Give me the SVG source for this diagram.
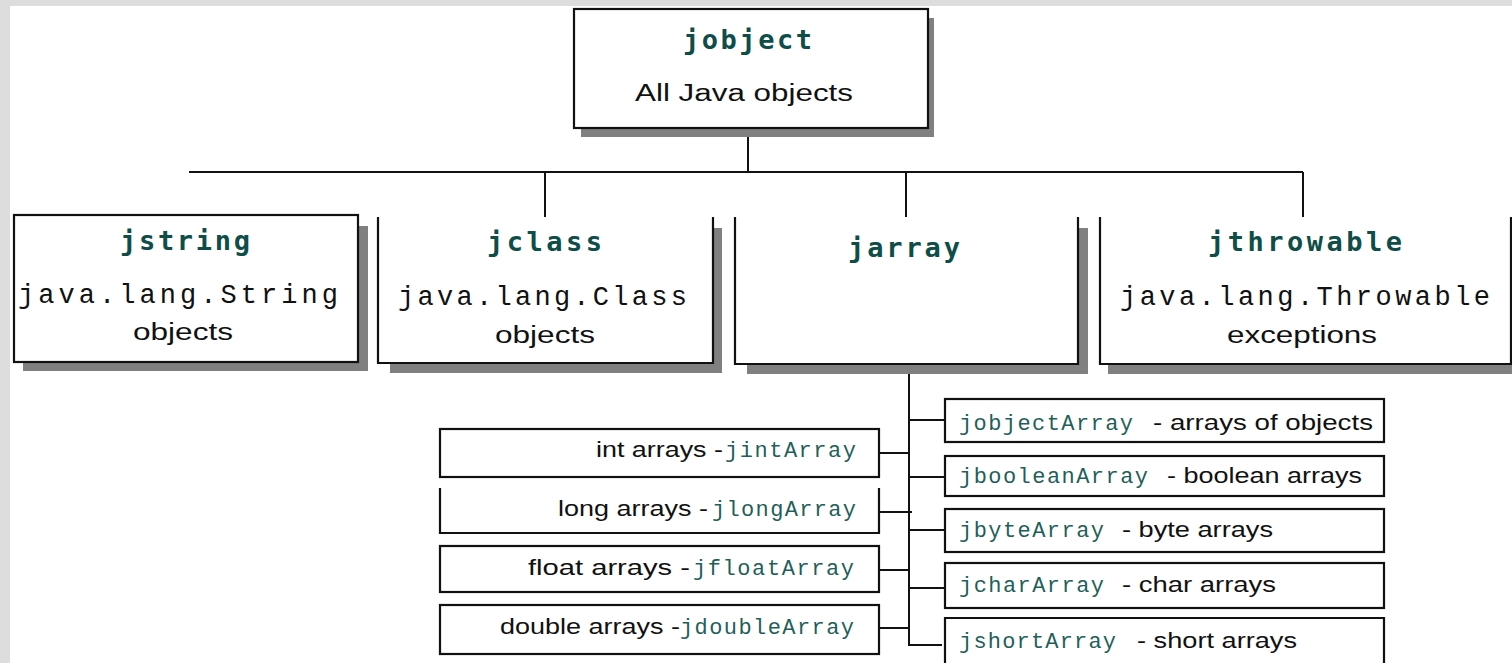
<svg xmlns="http://www.w3.org/2000/svg" width="1512" height="663" viewBox="0 0 1512 663">
<style>
.bg{fill:#dddddd}
.page{fill:#ffffff}
.sh{fill:#808080}
.fill{fill:#ffffff}
.bd{fill:none;stroke:#111111;stroke-width:2.2}
.ln{fill:none;stroke:#111111;stroke-width:2}
.hd{font-family:"DejaVu Sans Mono","Liberation Mono",monospace;font-weight:bold;font-size:27px;fill:#0e4d48}
.mono{font-family:"Liberation Mono","DejaVu Sans Mono",monospace;font-size:27px;fill:#111111}
.sans{font-family:"Liberation Sans",Arial,sans-serif;font-size:23px;fill:#111111}
.lsans{font-family:"Liberation Sans",Arial,sans-serif;font-size:22px;fill:#111111}
.tmono{font-family:"Liberation Mono","DejaVu Sans Mono",monospace;font-size:22px;fill:#1f5f5a}
</style>
<rect class="bg" x="0" y="0" width="1512" height="663"/>
<rect class="page" x="10" y="6" width="1502" height="657"/>

<g id="connectors">
<path class="ln" d="M748 128 V172"/>
<path class="ln" d="M189 172 H1303"/>
<path class="ln" d="M545 172 V217"/>
<path class="ln" d="M906 172 V217"/>
<path class="ln" d="M1303 172 V217"/>
<path class="ln" d="M909 364 V645 H942"/>
<path class="ln" d="M879 453 H909"/>
<path class="ln" d="M879 512 H912"/>
<path class="ln" d="M879 570 H909"/>
<path class="ln" d="M879 628 H909"/>
<path class="ln" d="M909 420 H945"/>
<path class="ln" d="M909 477 H945"/>
<path class="ln" d="M909 530 H945"/>
<path class="ln" d="M909 588 H945"/>
</g>

<g id="jobject">
<rect class="sh" x="581" y="18" width="353" height="119"/>
<rect class="fill" x="574" y="9" width="354" height="119"/>
<rect class="bd" x="574" y="9" width="354" height="119"/>
<text class="hd" x="683" y="49" textLength="129" lengthAdjust="spacing">jobject</text>
<text class="sans" x="635" y="101" textLength="218" lengthAdjust="spacingAndGlyphs">All Java objects</text>
</g>

<g id="jstring">
<rect class="sh" x="23" y="226" width="345" height="145"/>
<rect class="fill" x="14" y="215" width="344" height="147"/>
<rect class="bd" x="14" y="215" width="344" height="147"/>
<text class="hd" x="120" y="250" textLength="130" lengthAdjust="spacing">jstring</text>
<text class="mono" x="18" y="303" textLength="320" lengthAdjust="spacing">java.lang.String</text>
<text class="sans" x="133" y="340" textLength="100" lengthAdjust="spacingAndGlyphs">objects</text>
</g>

<g id="jclass">
<rect class="sh" x="390" y="228" width="332" height="145"/>
<rect class="fill" x="378" y="217" width="335" height="146"/>
<path class="bd" d="M378 217 V363 H713 V217"/>
<text class="hd" x="487" y="251" textLength="115" lengthAdjust="spacing">jclass</text>
<text class="mono" x="398" y="305" textLength="289" lengthAdjust="spacing">java.lang.Class</text>
<text class="sans" x="495" y="343" textLength="100" lengthAdjust="spacingAndGlyphs">objects</text>
</g>

<g id="jarray">
<rect class="sh" x="747" y="228" width="341" height="146"/>
<rect class="fill" x="735" y="217" width="343" height="147"/>
<path class="bd" d="M735 217 V364 H1078 V217"/>
<text class="hd" x="848" y="257" textLength="112" lengthAdjust="spacing">jarray</text>
</g>

<g id="jthrowable">
<rect class="sh" x="1108" y="228" width="404" height="146"/>
<rect class="fill" x="1100" y="217" width="411" height="147"/>
<path class="bd" d="M1100 217 V364 H1511 V217"/>
<text class="hd" x="1208" y="251" textLength="194" lengthAdjust="spacing">jthrowable</text>
<text class="mono" x="1120" y="305" textLength="370" lengthAdjust="spacing">java.lang.Throwable</text>
<text class="sans" x="1227" y="343" textLength="150" lengthAdjust="spacingAndGlyphs">exceptions</text>
</g>

<g id="jintArray">
<rect class="bd" x="440" y="429" width="439" height="48"/>
<text class="lsans" x="596" y="457" textLength="127" lengthAdjust="spacingAndGlyphs">int arrays -</text>
<text class="tmono" x="725" y="457" textLength="131" lengthAdjust="spacing">jintArray</text>
</g>

<g id="jlongArray">
<path class="bd" d="M440 488 V533 H879 V488"/>
<text class="lsans" x="558" y="516" textLength="150" lengthAdjust="spacingAndGlyphs">long arrays -</text>
<text class="tmono" x="712" y="516" textLength="144" lengthAdjust="spacing">jlongArray</text>
</g>

<g id="jfloatArray">
<rect class="bd" x="440" y="546" width="439" height="46"/>
<text class="lsans" x="528" y="575" textLength="162" lengthAdjust="spacingAndGlyphs">float arrays  -</text>
<text class="tmono" x="693" y="575" textLength="161" lengthAdjust="spacing">jfloatArray</text>
</g>

<g id="jdoubleArray">
<rect class="bd" x="440" y="605" width="439" height="49"/>
<text class="lsans" x="500" y="634" textLength="180" lengthAdjust="spacingAndGlyphs">double arrays -</text>
<text class="tmono" x="680" y="634" textLength="174" lengthAdjust="spacing">jdoubleArray</text>
</g>

<g id="jobjectArray">
<rect class="bd" x="945" y="399" width="439" height="43"/>
<text class="tmono" x="959" y="430" textLength="174" lengthAdjust="spacing">jobjectArray</text>
<text class="lsans" x="1153" y="430" textLength="220" lengthAdjust="spacingAndGlyphs">- arrays of objects</text>
</g>

<g id="jbooleanArray">
<rect class="bd" x="945" y="456" width="439" height="40"/>
<text class="tmono" x="959" y="483" textLength="189" lengthAdjust="spacing">jbooleanArray</text>
<text class="lsans" x="1167" y="483" textLength="195" lengthAdjust="spacingAndGlyphs">- boolean arrays</text>
</g>

<g id="jbyteArray">
<rect class="bd" x="945" y="509" width="439" height="43"/>
<text class="tmono" x="959" y="537" textLength="145" lengthAdjust="spacing">jbyteArray</text>
<text class="lsans" x="1122" y="537" textLength="151" lengthAdjust="spacingAndGlyphs">- byte arrays</text>
</g>

<g id="jcharArray">
<rect class="bd" x="945" y="563" width="439" height="45"/>
<text class="tmono" x="959" y="592" textLength="145" lengthAdjust="spacing">jcharArray</text>
<text class="lsans" x="1122" y="592" textLength="154" lengthAdjust="spacingAndGlyphs">- char arrays</text>
</g>

<g id="jshortArray">
<path class="bd" d="M945 670 V618 H1384 V670"/>
<text class="tmono" x="959" y="648" textLength="157" lengthAdjust="spacing">jshortArray</text>
<text class="lsans" x="1137" y="648" textLength="160" lengthAdjust="spacingAndGlyphs">- short arrays</text>
</g>
</svg>
